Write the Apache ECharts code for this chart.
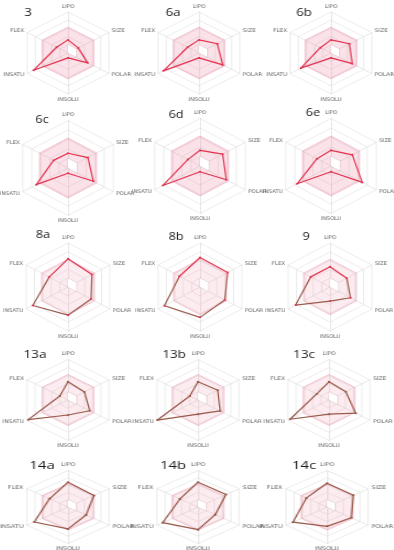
<!DOCTYPE html>
<html><head><meta charset="utf-8">
<script src="https://cdn.jsdelivr.net/npm/echarts@6/dist/echarts.min.js"></script>
<style>
html,body{margin:0;padding:0;background:#fff;width:394px;height:550px;overflow:hidden;position:relative}
.p{position:absolute;transform-origin:50% 50%}
</style></head><body>
<script>
// ---- data ----
const categories = ['LIPO', 'SIZE', 'POLAR', 'INSOLU', 'INSATU', 'FLEX'];
const compoundNames = ['3', '6a', '6b', '6c', '6d', '6e', '8a', '8b', '9', '13a', '13b', '13c', '14a', '14b', '14c'];
const c3   = [0.32, 0.25, 0.48, 0.12, 0.84, 0.28];
const c6a  = [0.32, 0.45, 0.58, 0.12, 0.87, 0.28];
const c6b  = [0.32, 0.45, 0.52, 0.12, 0.74, 0.26];
const c6c  = [0.31, 0.44, 0.56, 0.11, 0.70, 0.32];
const c6d  = [0.33, 0.50, 0.58, 0.12, 0.82, 0.27];
const c6e  = [0.33, 0.47, 0.69, 0.12, 0.75, 0.31];
const c8a  = [0.64, 0.57, 0.55, 0.64, 0.84, 0.45];
const c8b  = [0.67, 0.66, 0.59, 0.69, 0.85, 0.49];
const c9   = [0.46, 0.40, 0.49, 0.32, 0.82, 0.46];
const c13a = [0.45, 0.40, 0.53, 0.37, 0.97, 0.20];
const c13b = [0.45, 0.48, 0.54, 0.35, 0.99, 0.20];
const c13c = [0.45, 0.41, 0.65, 0.35, 0.95, 0.30];
const c14a = [0.68, 0.63, 0.44, 0.60, 0.82, 0.45];
const c14b = [0.68, 0.68, 0.42, 0.62, 0.86, 0.44];
const c14c = [0.65, 0.64, 0.59, 0.53, 0.83, 0.50];
const compoundValues = [c3, c6a, c6b, c6c, c6d, c6e, c8a, c8b, c9, c13a, c13b, c13c, c14a, c14b, c14c];
const optimalUpper = [0.63, 0.63, 0.63, 0.63, 0.63, 0.63];
const optimalLower = [0.2, 0.2, 0.2, 0, 0, 0];

// ---- layout ----
const rowCY = [52.5, 166.5, 287, 400, 506.5];
const rowR = [41, 47.5, 44, 40.5, 36.5];
const rowS = [1.15, 1.1, 1.1, 1.17, 1.3];
const panelCX = [68, 199, 331, 68, 200, 331, 68, 200, 330, 68, 198, 329, 68, 198, 327];
const panelCYAdj = [0, 0, 0, 1.5, -0.5, -0.5, 0, 0, 0, 0, 0, 0, 0, 0, 0];
const titlePos = [[28,12],[173,12],[304,12],[42,120],[176,115],[313,113],[43,235],[176,237],[306,237],[35,355],[174,355],[304,355],[42,465],[173,465],[304,465]];

// ECharts radar goes counter-clockwise; reference goes clockwise from top
const order = [0, 5, 4, 3, 2, 1];
const reorder = arr => order.map(k => arr[k]);

const RED = '#e2334f';
const BROWN = '#9a5a4c';

const W = 150, H = 116;
compoundNames.forEach((name, i) => {
  const row = Math.floor(i / 3);
  const cx = panelCX[i], cy = rowCY[row] + panelCYAdj[i];
  const R = rowR[row], s = rowS[row];
  const div = document.createElement('div');
  div.className = 'p';
  div.style.left = (cx - W / 2) + 'px';
  div.style.top = (cy - H / 2) + 'px';
  div.style.width = W + 'px';
  div.style.height = H + 'px';
  div.style.transform = 'scaleX(' + s + ')';
  document.body.appendChild(div);
  const chart = echarts.init(div, null, { renderer: 'canvas' });

  let lineColor;
  if (row < 2) lineColor = RED;
  else if (row === 2) lineColor = { type: 'linear', x: 0, y: 0, x2: 0, y2: 1, colorStops: [
      { offset: 0, color: RED }, { offset: 0.3, color: RED }, { offset: 0.4, color: BROWN }, { offset: 1, color: BROWN }] };
  else lineColor = BROWN;
  const pinkFill = row < 2 ? 'rgba(236,110,145,0.2)' : 'rgba(236,110,145,0.14)';

  const [tx, ty] = titlePos[i];
  chart.setOption({
    animation: false,
    radar: {
      center: ['50%', '50%'],
      radius: R,
      startAngle: 90,
      splitNumber: 5,
      shape: 'polygon',
      nameGap: 3,
      indicator: reorder(categories).map(n => ({ name: n, min: 0, max: 1 })),
      axisName: { color: '#666', fontSize: 5, fontFamily: 'DejaVu Sans' },
      splitLine: { lineStyle: { color: '#e4e4e4', width: 0.7 } },
      splitArea: { show: false },
      axisLine: { lineStyle: { color: '#dedede', width: 0.7 } },
      axisTick: { show: false },
      axisLabel: { show: false }
    },
    series: [{
      type: 'radar',
      silent: true,
      symbol: 'none',
      data: [
        { value: reorder(optimalUpper), areaStyle: { color: pinkFill, opacity: 1 }, lineStyle: { color: 'rgba(230,120,150,0.5)', width: 0.8 } },
        { value: reorder(optimalLower), areaStyle: { color: '#ffffff', opacity: 1 }, lineStyle: { color: 'rgba(200,170,180,0.8)', width: 0.6 } },
        { value: reorder(compoundValues[i]), symbol: 'circle', symbolSize: 2,
          lineStyle: { color: lineColor, width: 1.2 }, itemStyle: { color: row < 3 ? RED : BROWN } }
      ]
    }],
    graphic: [{
      type: 'text',
      x: W / 2 + (tx - cx) / s,
      y: H / 2 + (ty - cy),
      style: { text: name, font: '11.5px "Open Sans"', fill: '#1a1a1a', align: 'center', verticalAlign: 'middle', textAlign: 'center', textVerticalAlign: 'middle' }
    }]
  });
});
</script>
</body></html>
